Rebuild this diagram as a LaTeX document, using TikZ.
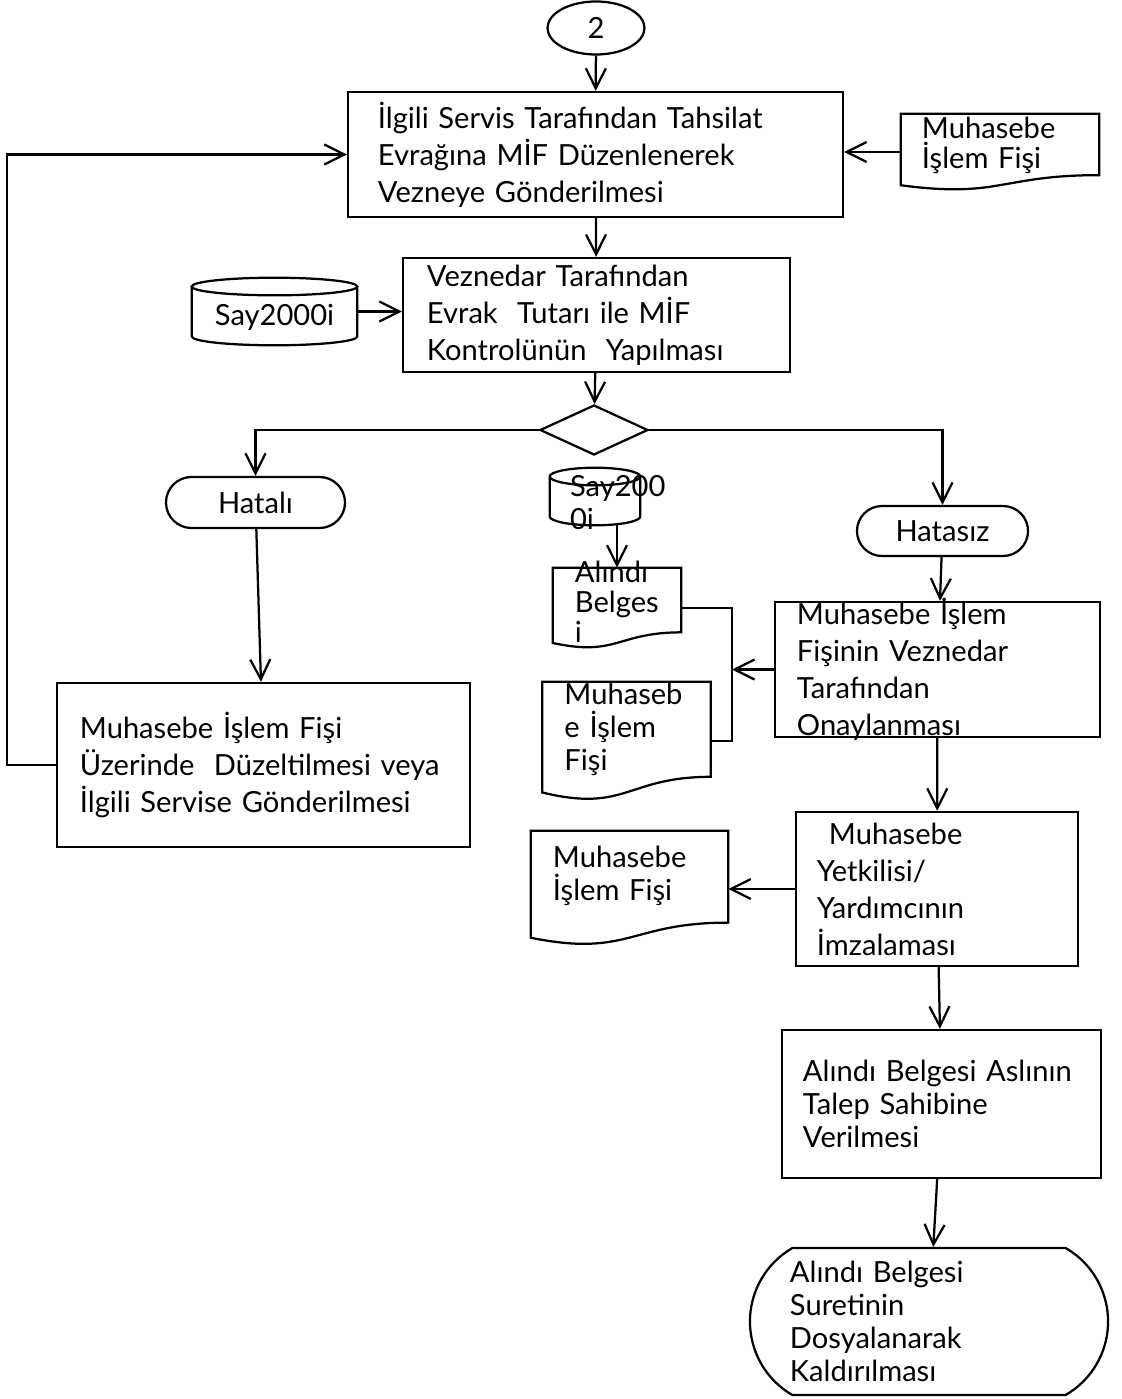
\documentclass[tikz,border=0pt]{standalone}
\usepackage{fontspec}
\setmainfont{Lato}
\usepackage{tikz}
\usetikzlibrary{shapes.geometric, shapes.misc, arrows.meta, calc}

\tikzset{
  flow/.style={line width=1.6pt},
  arr/.style={flow, -{Straight Barb[length=5mm, width=5mm]}},
  txt/.style={font=\fontsize{20.7}{23.5}\selectfont, align=left, inner sep=0pt},
  wide/.style={font=\fontsize{20.7}{26.3}\selectfont},
  tight/.style={font=\fontsize{20.7}{21.5}\selectfont},
  procbox/.style={rectangle, draw, flow, txt},
  docbox/.style={rectangle, inner sep=0pt},
  term/.style={rounded rectangle, draw, flow, txt},
}

% wavy-bottom document outline round a docbox node
\newcommand{\docline}[1]{%
  \draw[flow] let \p1=(#1.north west), \p2=(#1.south east) in
    (\p1) -- (\x2,\y1) -- (\x2,{\y2+0.198*(\y1-\y2)})
    .. controls ({0.5*(\x1+\x2)},{\y2+0.198*(\y1-\y2)}) and ({0.5*(\x1+\x2)},{\y2-0.107*(\y1-\y2)}) .. (\x1,{\y2+0.066*(\y1-\y2)})
    -- cycle;}
% upright drum (database) outline round a docbox node
\newcommand{\drumline}[1]{%
  \draw[flow] let \p1=(#1.north west), \p2=(#1.south east), \n1={0.5*(\x2-\x1)} in
    ({0.5*(\x1+\x2)},{\y1-0.22cm}) ellipse [x radius=\n1, y radius=0.22cm]
    (\x1,{\y1-0.22cm}) -- (\x1,{\y2+0.22cm})
    arc [start angle=180, end angle=360, x radius=\n1, y radius=0.22cm] -- (\x2,{\y1-0.22cm});}

\begin{document}
\begin{tikzpicture}[x=0.025cm, y=-0.025cm]
  \useasboundingbox (0,0) rectangle (1122,1399);

  \node[ellipse, draw, flow, txt, minimum width=2.425cm, minimum height=1.325cm] (c2) at (596,28) {2};

  \node[procbox, wide, minimum width=12.375cm, minimum height=3.125cm, text width=10.875cm] (svc) at (595.5,154.5)
    {İlgili Servis Tarafından Tahsilat\\ Evrağına MİF Düzenlenerek\\ Vezneye Gönderilmesi};
  \node[docbox, minimum width=4.95cm, minimum height=1.9cm,
    label={[txt, tight, text width=3.9cm, yshift=0.175cm]center:Muhasebe\\ İşlem Fişi}] (mif1) at (1000,152) {};
  \docline{mif1}

  \node[procbox, wide, minimum width=9.675cm, minimum height=2.85cm, text width=8.475cm] (ctrl) at (596.5,315)
    {Veznedar Tarafından\\ Evrak\ \ Tutarı ile MİF\\ Kontrolünün\ \ Yapılması};
  \node[docbox, minimum width=4.125cm, minimum height=1.675cm,
    label={[txt, yshift=-0.15cm]center:Say2000i}] (db1) at (274.5,311.5) {};
  \drumline{db1}

  \node[diamond, draw, flow, inner sep=0pt, minimum width=2.7cm, minimum height=1.25cm] (dec) at (594,430) {};

  \node[term, minimum width=4.475cm, minimum height=1.275cm] (err) at (255.5,502.5) {Hatalı};
  \node[term, minimum width=4.275cm, minimum height=1.25cm] (ok) at (942.5,531) {Hatasız};

  \node[procbox, wide, minimum width=10.325cm, minimum height=4.1cm, text width=9.175cm] (fix) at (263.5,765)
    {Muhasebe İşlem Fişi\\ Üzerinde\ \ Düzeltilmesi veya\\ İlgili Servise Gönderilmesi};

  \node[docbox, minimum width=2.25cm, minimum height=1.425cm,
    label={[txt, text width=1.25cm, yshift=-0.14cm]center:Say200\\ 0i}] (db2) at (595,496.5) {};
  \drumline{db2}
  \node[docbox, minimum width=3.2cm, minimum height=2cm,
    label={[txt, tight, text width=2.1cm, yshift=0.16cm]center:Alındı\\ Belges\\ i}] (rcpt) at (617,608) {};
  \docline{rcpt}
  \node[docbox, minimum width=4.2cm, minimum height=2.95cm,
    label={[txt, text width=3.1cm, yshift=0.3cm]center:Muhaseb\\ e İşlem\\ Fişi}] (mif2) at (626.5,741) {};
  \docline{mif2}

  \node[procbox, minimum width=8.125cm, minimum height=3.375cm,
    label={[txt, wide, text width=7.025cm]center:Muhasebe İşlem\\ Fişinin Veznedar\\ Tarafından\\ Onaylanması}] (appr) at (937.5,669.5) {};
  \coordinate (brk) at (732,669.5);

  \node[procbox, minimum width=7.05cm, minimum height=3.85cm,
    label={[txt, wide, text width=6cm]center:\hspace*{0.3cm}Muhasebe\\ Yetkilisi/\\ Yardımcının\\ İmzalaması}] (sign) at (937,889) {};
  \node[docbox, minimum width=4.925cm, minimum height=2.85cm,
    label={[txt, text width=3.825cm, yshift=0.3cm]center:Muhasebe\\ İşlem Fişi}] (mif3) at (629.5,888) {};
  \docline{mif3}

  \node[procbox, minimum width=7.975cm, minimum height=3.7cm, text width=6.925cm] (give) at (941.5,1104)
    {Alındı Belgesi Aslının\\ Talep Sahibine\\ Verilmesi};
  \node[term, rounded rectangle arc length=120, minimum width=8.95cm, minimum height=3.675cm,
    label={[txt, text width=6.95cm]center:Alındı Belgesi\\ Suretinin\\ Dosyalanarak\\ Kaldırılması}] (fin) at (929,1321.5) {};

  % connectors
  \draw[arr] (c2) -- (svc);
  \draw[arr] (mif1.west) -- (mif1.west -| svc.east);
  \draw[arr] (svc) -- (ctrl);
  \draw[arr] (db1.east) -- (db1.east -| ctrl.west);
  \draw[arr] (ctrl) -- (dec);
  \draw[arr] (dec.west) -| (err.north);
  \draw[arr] (dec.east) -| (ok.north);
  \draw[arr] (err) -- (fix);
  \draw[arr] (fix.west) -- ++(-1.225cm,0) |- (svc.west);
  \draw[arr] (ok) -- (appr);
  \draw[arr] (rcpt.north |- db2.south) -- (rcpt.north);
  \draw[arr] (appr.west) -- (brk);
  \draw[flow] (rcpt.east) -| (brk) |- (mif2.east);
  \draw[arr] (appr) -- (sign);
  \draw[arr] (sign.west) -- (sign.west -| mif3.east);
  \draw[arr] (sign) -- (give);
  \draw[arr] (give) -- (fin);
\end{tikzpicture}
\end{document}
